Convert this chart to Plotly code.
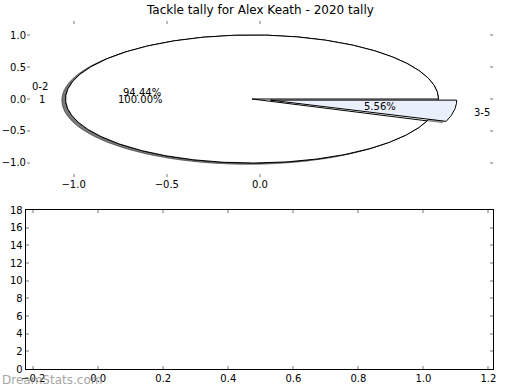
import numpy as np
import plotly.graph_objects as go

# ---- data ----
title = "Tackle tally for Alex Keath - 2020 tally"
pie1_labels = ["1"]
pie1_values = [18]
pie2_labels = ["0-2", "3-5"]
pie2_values = [17, 1]
pie2_explode = [0.0, 0.1]
pie2_colors = ["#ffffff", "#e9effb"]
pie1_colors = ["#ffffff"]
bar_xticks = [-0.2, 0.0, 0.2, 0.4, 0.6, 0.8, 1.0, 1.2]
bar_yticks = list(range(0, 20, 2))
pie_xticks = [-1.0, -0.5, 0.0]
pie_yticks = [-1.0, -0.5, 0.0, 0.5, 1.0]

center = (-0.043, 0.0)
FONT = "DejaVu Sans"

fig = go.Figure()


def wedges(values, explode):
    tot = float(sum(values))
    out = []
    t = 0.0
    for v, ex in zip(values, explode):
        frac = v / tot
        t1, t2 = 360.0 * t, 360.0 * (t + frac)
        mid = np.deg2rad((t1 + t2) / 2)
        cx = center[0] + ex * np.cos(mid)
        cy = center[1] + ex * np.sin(mid)
        out.append((t1, t2, cx, cy, mid, frac))
        t += frac
    return out


def path(t1, t2, cx, cy):
    th = np.deg2rad(np.linspace(t1, t2, 400))
    xs = cx + np.cos(th)
    ys = cy + np.sin(th)
    if t2 - t1 >= 359.999:
        return list(xs), list(ys)
    return [cx] + list(xs) + [cx], [cy] + list(ys) + [cy]


w1 = wedges(pie1_values, [0.0] * len(pie1_values))
w2 = wedges(pie2_values, pie2_explode)

# shadows
for ws in (w1, w2):
    for (t1, t2, cx, cy, mid, frac) in ws:
        xs, ys = path(t1, t2, cx - 0.02, cy - 0.02)
        fig.add_trace(go.Scatter(x=xs, y=ys, mode="lines", fill="toself",
                                 fillcolor="rgba(77,77,77,0.5)",
                                 line=dict(color="rgba(77,77,77,0.5)", width=1),
                                 hoverinfo="skip", showlegend=False,
                                 xaxis="x", yaxis="y"))

annotations = []
for ws, labels, colors in ((w1, pie1_labels, pie1_colors), (w2, pie2_labels, pie2_colors)):
    for (t1, t2, cx, cy, mid, frac), lab, col in zip(ws, labels, colors):
        xs, ys = path(t1, t2, cx, cy)
        fig.add_trace(go.Scatter(x=xs, y=ys, mode="lines", fill="toself",
                                 fillcolor=col, line=dict(color="black", width=1),
                                 hoverinfo="skip", showlegend=False,
                                 xaxis="x", yaxis="y"))
        lx = cx + 1.1 * np.cos(mid)
        ly = cy + 1.1 * np.sin(mid)
        annotations.append(dict(x=lx, y=ly, xref="x", yref="y", text=lab,
                                showarrow=False, xanchor="right" if lx < 0 else "left",
                                yanchor="middle", font=dict(size=10, color="black", family=FONT)))
        px_ = cx + 0.6 * np.cos(mid)
        py_ = cy + 0.6 * np.sin(mid)
        annotations.append(dict(x=px_, y=py_, xref="x", yref="y", text="%.2f%%" % (frac * 100),
                                showarrow=False, xanchor="center", yanchor="middle",
                                font=dict(size=10, color="black", family=FONT)))

# empty bottom axes
fig.add_trace(go.Scatter(x=[], y=[], xaxis="x2", yaxis="y2", showlegend=False))

annotations.append(dict(text=title, x=0.5, y=1 - 10 / 390, xref="paper", yref="paper",
                        showarrow=False, xanchor="center", yanchor="middle",
                        font=dict(size=12, color="black", family=FONT)))
annotations.append(dict(text="DreamStats.com", x=0, y=1 - 380 / 390, xref="paper", yref="paper",
                        showarrow=False, xanchor="left", yanchor="middle",
                        font=dict(size=12, color="rgba(140,140,140,0.8)", family=FONT)))

tickfont = dict(size=10, color="black", family=FONT)
common = dict(ticks="inside", ticklen=3, tickcolor="#bbbbbb", tickwidth=2,
              showgrid=False, zeroline=False, tickfont=tickfont, automargin=False,
              fixedrange=True)
fig.update_layout(
    width=520, height=390,
    margin=dict(l=0, r=0, t=0, b=0, autoexpand=False),
    paper_bgcolor="white", plot_bgcolor="white",
    font=dict(family=FONT),
    annotations=annotations,
    xaxis=dict(domain=[27 / 520, 493 / 520], range=[-1.25, 1.25], anchor="y",
               tickvals=pie_xticks, ticktext=["\u22121.0", "\u22120.5", "0.0"],
               showline=False, mirror="allticks", **common),
    yaxis=dict(domain=[(390 - 177) / 390, (390 - 21) / 390], range=[-1.219, 1.219], anchor="x",
               tickvals=pie_yticks, ticktext=["\u22121.0", "\u22120.5", "0.0", "0.5", "1.0"],
               showline=False, mirror="allticks", **common),
    xaxis2=dict(domain=[25.7 / 520, 493 / 520], range=[-0.223, 1.214], anchor="y2",
                tickvals=bar_xticks, tickformat=".1f",
                showline=True, linecolor="black", linewidth=1, mirror="allticks", **common),
    yaxis2=dict(domain=[21 / 390, 180 / 390], range=[0, 18], anchor="x2",
                tickvals=bar_yticks,
                showline=True, linecolor="black", linewidth=1, mirror="allticks", **common),
)

fig.write_html("out.html", config={"displayModeBar": False},
               post_script="document.body.style.margin='0';")
